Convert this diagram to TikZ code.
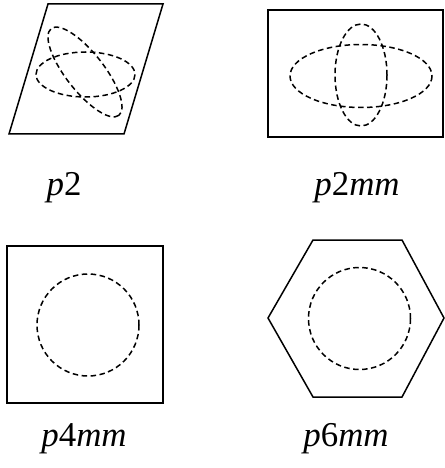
\documentclass[tikz,border=0pt]{standalone}
\usepackage{fontspec}
\setmainfont{Liberation Serif}
\begin{document}
\begin{tikzpicture}[x=1bp,y=-1bp,
  cell/.style={line width=1.5bp, line join=miter},
  orbit/.style={line width=1.5bp, dash pattern=on 5.5bp off 3.5bp},
  lbl/.style={anchor=base, inner sep=0pt, font=\fontsize{35}{40}\selectfont}]
\useasboundingbox (0,0) rectangle (445,468);
% p2
\draw[cell] (48,4) -- (163,4) -- (124,134) -- (9,134) -- cycle;
\draw[orbit] (85.5,74.5) ellipse [x radius=49.5, y radius=22.5];
\draw[orbit, rotate around={-52:(85,72)}] (85,72) ellipse [x radius=55, y radius=19];
\node[lbl] (l1) at (64,196) {\textit{p}2};
% p2mm
\draw[cell] (268,10) rectangle (443,137);
\draw[orbit] (361,76) ellipse [x radius=71, y radius=31.5];
\draw[orbit] (361,75) ellipse [x radius=26, y radius=51];
\node[lbl] (l2) at (357,196) {\textit{p}2\textit{mm}};
% p4mm
\draw[cell] (7,246) rectangle (163,403);
\draw[orbit] (88,325) circle [radius=51];
\node[lbl] (l3) at (84,446) {\textit{p}4\textit{mm}};
% p6mm
\draw[cell] (268,318) -- (313,240) -- (402,240) -- (444,318) -- (402,397) -- (313,397) -- cycle;
\draw[orbit] (359.5,318.5) circle [radius=51];
\node[lbl] (l4) at (346,446) {\textit{p}6\textit{mm}};
\end{tikzpicture}
\end{document}
